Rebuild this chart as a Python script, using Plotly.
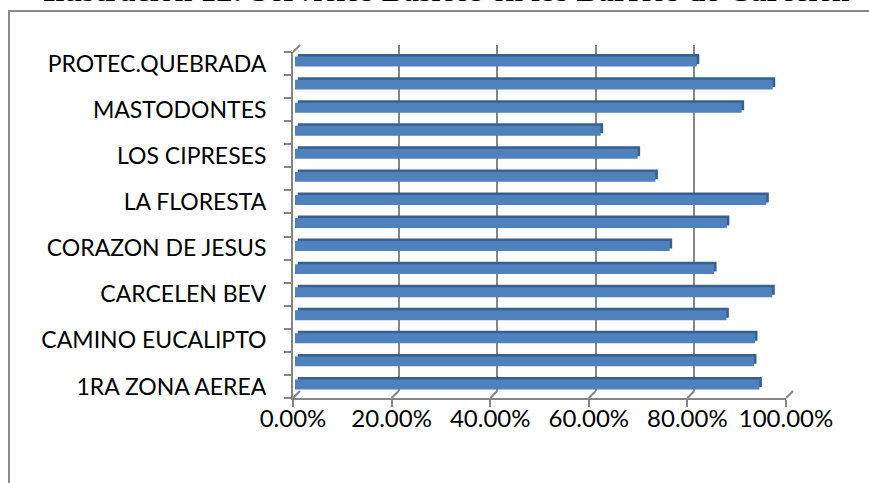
import plotly.graph_objects as go

# ---------------- data ----------------
barrios = ["1RA ZONA AEREA", None, "CAMINO EUCALIPTO", None, "CARCELEN BEV", None,
           "CORAZON DE JESUS", None, "LA FLORESTA", None, "LOS CIPRESES", None,
           "MASTODONTES", None, "PROTEC.QUEBRADA"]
cobertura = [0.942, 0.931, 0.933, 0.875, 0.968, 0.850, 0.760, 0.876, 0.956,
             0.731, 0.695, 0.620, 0.906, 0.969, 0.815]
x_ticks = [0, 0.2, 0.4, 0.6, 0.8, 1.0]
title_text = "Ilustración 12: Servicios Básicos en los Barrios de Carcelén"

# ---------------- geometry ----------------
W, H = 869, 483
FX0, FX1 = 293, 786      # front plane (px)
FY0, FY1 = 52, 398
DEPTH = 7                 # 3-D depth offset (px)

pos = list(range(len(cobertura)))
yr = [-0.5, len(cobertura) - 0.5]

def xdom(shift):
    return [(FX0 + shift) / W, (FX1 + shift) / W]

def ydom(shift):
    return [1 - (FY1 - shift) / H, 1 - (FY0 - shift) / H]

GRID = "#858585"
BLUE = "#4F81BD"
DARK = "#36608F"
FONT = "Lato"

fig = go.Figure()

# back plane (gridlines)
fig.add_trace(go.Bar(x=[None], y=[None], orientation="h", xaxis="x", yaxis="y",
                     showlegend=False, hoverinfo="skip"))
# bar depth (dark side/top faces)
fig.add_trace(go.Bar(x=cobertura, y=pos, orientation="h", xaxis="x2", yaxis="y2",
                     width=0.43, marker=dict(color=DARK, line=dict(width=0)),
                     showlegend=False, hoverinfo="skip"))
# bar front faces
fig.add_trace(go.Bar(x=cobertura, y=pos, orientation="h", xaxis="x3", yaxis="y3",
                     width=0.43, marker=dict(color=BLUE, line=dict(width=0)),
                     showlegend=False))
# front axes (labels / ticks)
fig.add_trace(go.Bar(x=[None], y=[None], orientation="h", xaxis="x4", yaxis="y4",
                     showlegend=False, hoverinfo="skip"))

hidden = dict(showticklabels=False, ticks="", zeroline=False, showline=False,
              automargin=False)

tickvals_y = [p for p, b in zip(pos, barrios) if b]
ticktext_y = [b for b in barrios if b]

fig.update_layout(
    template="none",
    width=W, height=H,
    autosize=False,
    margin=dict(l=0, r=0, t=0, b=0, pad=0),
    paper_bgcolor="white", plot_bgcolor="rgba(0,0,0,0)",
    barmode="overlay",
    font=dict(family=FONT, size=20, color="black"),
    xaxis=dict(domain=xdom(DEPTH), range=[0, 1], tickvals=x_ticks, showgrid=True,
               gridcolor=GRID, gridwidth=2.4, **hidden),
    yaxis=dict(domain=ydom(DEPTH), range=yr, showgrid=False, **hidden),
    xaxis2=dict(domain=xdom(4.5), range=[0, 1], showgrid=False, anchor="y2", **hidden),
    yaxis2=dict(domain=ydom(4.5), range=yr, showgrid=False, anchor="x2", **hidden),
    xaxis3=dict(domain=xdom(2), range=[0, 1], showgrid=False, anchor="y3", **hidden),
    yaxis3=dict(domain=ydom(2), range=yr, showgrid=False, anchor="x3", **hidden),
    xaxis4=dict(domain=xdom(0), range=[0, 1], anchor="y4", tickvals=x_ticks,
                tickformat=".2%", ticks="outside", ticklen=7, tickwidth=2,
                tickcolor=GRID, showline=True, linecolor=GRID, linewidth=2,
                showgrid=False, zeroline=False, ticklabelstandoff=-9,
                automargin=False,
                tickfont=dict(family=FONT, size=24, color="black")),
    yaxis4=dict(domain=ydom(0), range=yr, anchor="x4", tickvals=tickvals_y,
                ticktext=ticktext_y, ticks="", showline=True, linecolor=GRID,
                linewidth=2, showgrid=False, zeroline=False, ticklabelstandoff=20,
                automargin=False,
                tickfont=dict(family=FONT, size=23, color="black"),
                minor=dict(tickvals=[p - 0.5 for p in pos] + [pos[-1] + 0.5],
                           ticks="outside", ticklen=7, tickwidth=2, tickcolor=GRID)),
)

# 3-D floor / wall connectors derived from the axis geometry
shapes = []
def px2paper_x(px):
    return px / W
def px2paper_y(py):
    return 1 - py / H
for v in x_ticks:
    fx = FX0 + v * (FX1 - FX0)
    shapes.append(dict(type="line", xref="paper", yref="paper",
                       x0=px2paper_x(fx), y0=px2paper_y(FY1),
                       x1=px2paper_x(fx + DEPTH), y1=px2paper_y(FY1 - DEPTH),
                       line=dict(color=GRID, width=2)))
shapes.append(dict(type="line", xref="paper", yref="paper",
                   x0=px2paper_x(FX0), y0=px2paper_y(FY0),
                   x1=px2paper_x(FX0 + DEPTH), y1=px2paper_y(FY0 - DEPTH),
                   line=dict(color=GRID, width=2)))
# outer chart-area border
shapes.append(dict(type="rect", xref="paper", yref="paper",
                   x0=9 / W, y0=-0.1, x1=1.1, y1=1 - 11 / H,
                   line=dict(color="#8A8A8A", width=2), fillcolor="rgba(0,0,0,0)",
                   layer="below"))
fig.update_layout(shapes=shapes)

# caption above the chart box (mostly cut off by the page edge, as in the source)
fig.add_annotation(text="<b>" + title_text + "</b>", xref="paper", yref="paper",
                   x=446 / W, y=1 + 10 / H, xanchor="center", yanchor="middle",
                   showarrow=False,
                   font=dict(family="Liberation Serif", size=32, color="black"))

fig.write_html("out.html", config={"displayModeBar": False},
               post_script="document.body.style.margin='0';"
                           "document.body.style.overflow='hidden';")
